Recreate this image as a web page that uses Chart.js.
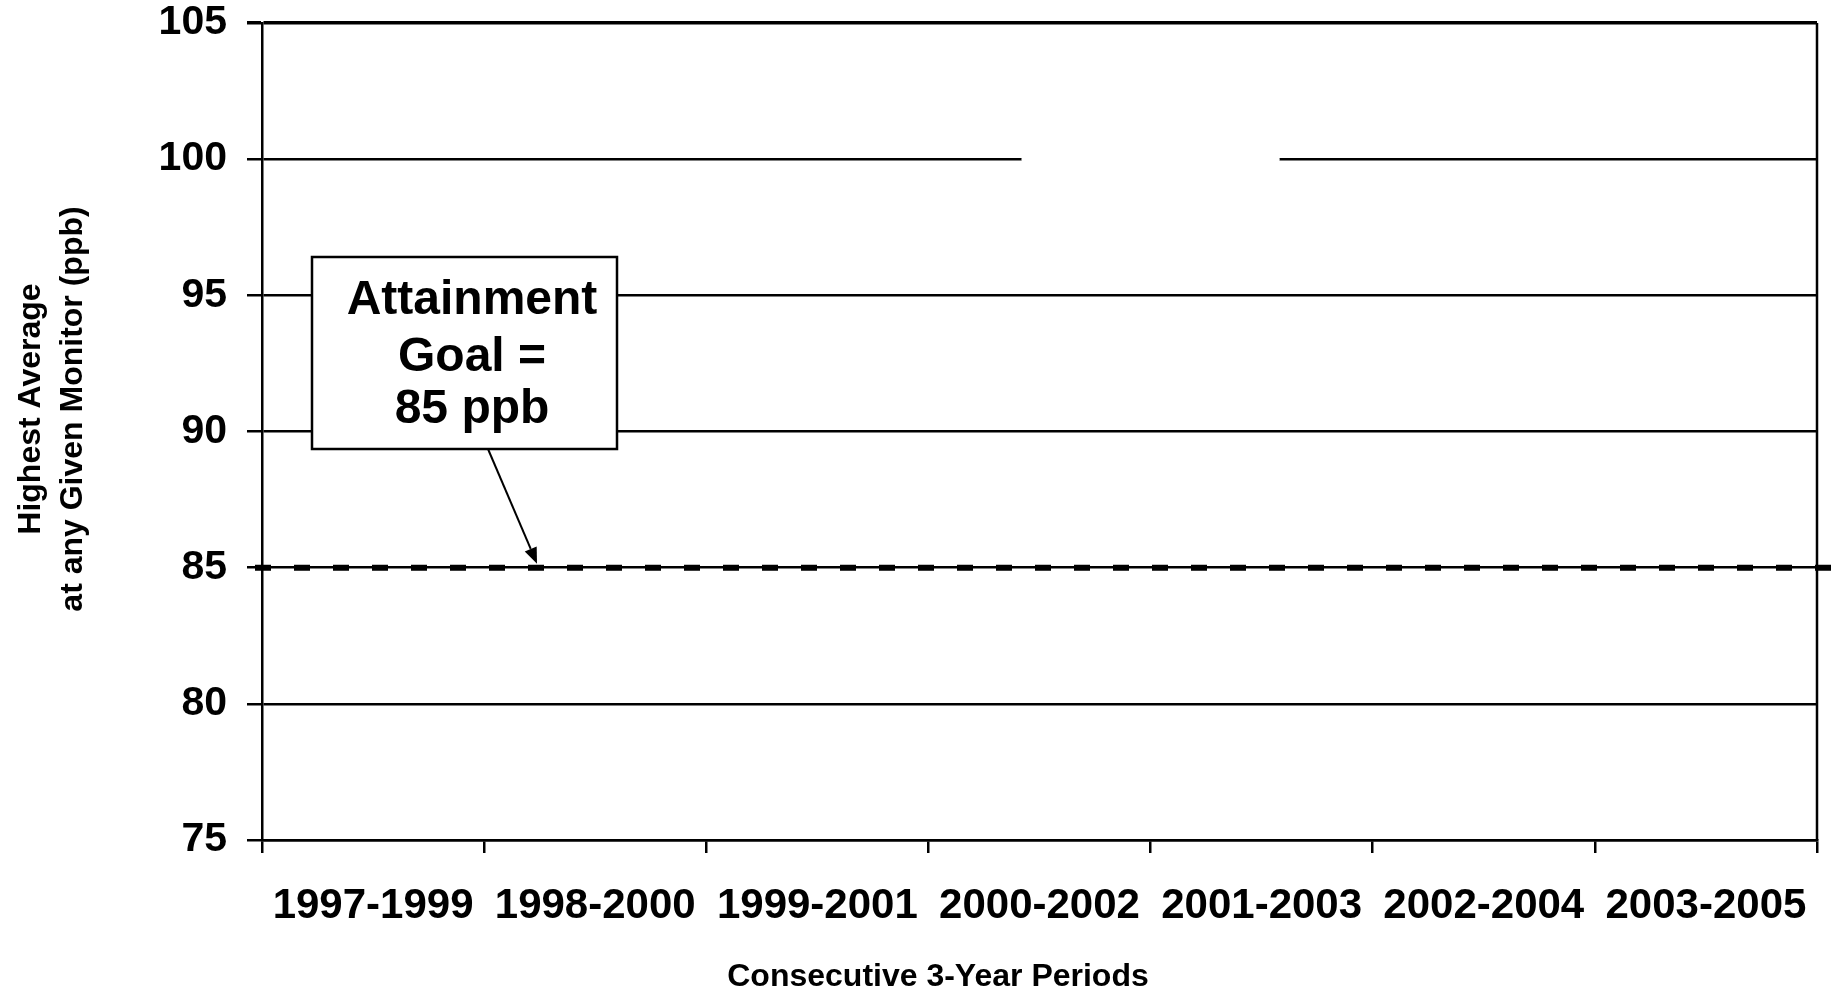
<!DOCTYPE html>
<html>
<head>
<meta charset="utf-8">
<script src="https://cdn.jsdelivr.net/npm/chart.js@4/dist/chart.umd.min.js"></script>
<style>
  html, body { margin: 0; padding: 0; background: #fff; }
  #wrap { width: 1837px; height: 992px; }
</style>
</head>
<body>
<div id="wrap"><canvas id="c" width="1837" height="992"></canvas></div>
<script>
const periods = ['1997-1999', '1998-2000', '1999-2001', '2000-2002', '2001-2003', '2002-2004', '2003-2005'];
const highestAverage = [null, null, null, 100, 100, null, null];
const yTicks = [75, 80, 85, 90, 95, 100, 105];
const attainmentGoal = 85;
const goalLabel = ['Attainment', 'Goal =', '85 ppb'];
const xTitle = 'Consecutive 3-Year Periods';
const yTitle = ['Highest Average', 'at any Given Monitor (ppb)'];

const FONT = '"Liberation Sans", Arial, Helvetica, sans-serif';

const overlay = {
  id: 'overlay',
  afterDraw(chart) {
    const ctx = chart.ctx;
    const ca = chart.chartArea;
    const y = chart.scales.y;
    ctx.save();
    // right frame line
    ctx.strokeStyle = '#000';
    ctx.lineWidth = 2.5;
    ctx.beginPath();
    ctx.moveTo(ca.right, ca.top);
    ctx.lineTo(ca.right, ca.bottom);
    ctx.stroke();

    // attainment goal dashed line
    const gy = y.getPixelForValue(attainmentGoal);
    ctx.lineWidth = 6;
    ctx.setLineDash([16, 23]);
    ctx.lineCap = 'butt';
    ctx.beginPath();
    ctx.moveTo(255, gy);
    ctx.lineTo(1834, gy);
    ctx.stroke();
    ctx.setLineDash([]);

    // annotation box
    const bx = 312, by = 257, bw = 305, bh = 192;
    ctx.fillStyle = '#fff';
    ctx.fillRect(bx, by, bw, bh);
    ctx.lineWidth = 2.5;
    ctx.strokeRect(bx, by, bw, bh);
    ctx.fillStyle = '#000';
    ctx.font = 'bold 48px ' + FONT;
    ctx.textAlign = 'center';
    ctx.textBaseline = 'alphabetic';
    const bases = [314, 371, 423];
    goalLabel.forEach((t, i) => ctx.fillText(t, 472, bases[i]));

    // arrow
    const x0 = 488, y0 = 449, x1 = 537, y1 = gy - 4;
    const ang = Math.atan2(y1 - y0, x1 - x0);
    const hl = 16, hw = 6.5;
    const bxp = x1 - hl * Math.cos(ang), byp = y1 - hl * Math.sin(ang);
    ctx.lineWidth = 2;
    ctx.beginPath();
    ctx.moveTo(x0, y0);
    ctx.lineTo(bxp, byp);
    ctx.stroke();
    ctx.beginPath();
    ctx.moveTo(x1, y1);
    ctx.lineTo(bxp + hw * Math.sin(ang), byp - hw * Math.cos(ang));
    ctx.lineTo(bxp - hw * Math.sin(ang), byp + hw * Math.cos(ang));
    ctx.closePath();
    ctx.fill();

    // x title
    ctx.font = 'bold 32px ' + FONT;
    ctx.textBaseline = 'middle';
    ctx.fillText(xTitle, 938, 977);

    // y title
    ctx.font = 'bold 32px ' + FONT;
    ctx.translate(0, 409);
    ctx.rotate(-Math.PI / 2);
    ctx.fillText(yTitle[0], 0, 31);
    ctx.fillText(yTitle[1], 0, 73);
    ctx.restore();
  }
};

new Chart(document.getElementById('c'), {
  type: 'line',
  data: {
    labels: periods,
    datasets: [{
      label: 'Highest Average',
      data: highestAverage,
      borderColor: '#ffffff',
      backgroundColor: '#ffffff',
      borderWidth: 6,
      pointRadius: 18,
      pointBorderWidth: 0,
      pointBackgroundColor: '#ffffff',
      spanGaps: false
    }]
  },
  options: {
    responsive: false,
    devicePixelRatio: 1,
    animation: false,
    layout: { autoPadding: false, padding: { top: 23, right: 20, left: 0, bottom: 0 } },
    plugins: { legend: { display: false }, tooltip: { enabled: false }, title: { display: false } },
    scales: {
      x: {
        type: 'category',
        offset: true,
        grid: { offset: true, drawOnChartArea: false, drawTicks: true, tickLength: 13, color: '#000', lineWidth: 2.5 },
        border: { display: true, color: '#000', width: 2.5 },
        ticks: { color: '#000', font: { family: FONT, size: 42, weight: 'bold' }, padding: 28, maxRotation: 0, autoSkip: false },
        afterFit(s) { s.height = 152; s.paddingLeft = 0; s.paddingRight = 0; }
      },
      y: {
        min: yTicks[0],
        max: yTicks[yTicks.length - 1],
        afterBuildTicks(s) { s.ticks = yTicks.map(v => ({ value: v })); },
        grid: {
          drawTicks: true, tickLength: 15, color: '#000',
          lineWidth: (c) => (c.tick && c.tick.value === yTicks[yTicks.length - 1]) ? 3.5 : 2.5
        },
        border: { display: true, color: '#000', width: 2.5 },
        ticks: { color: '#000', font: { family: FONT, size: 41, weight: 'bold', lineHeight: 1.0 }, padding: 20 },
        afterFit(s) { s.width = 262; s.paddingTop = 0; s.paddingBottom = 0; }
      }
    }
  },
  plugins: [overlay]
});
</script>
</body>
</html>
